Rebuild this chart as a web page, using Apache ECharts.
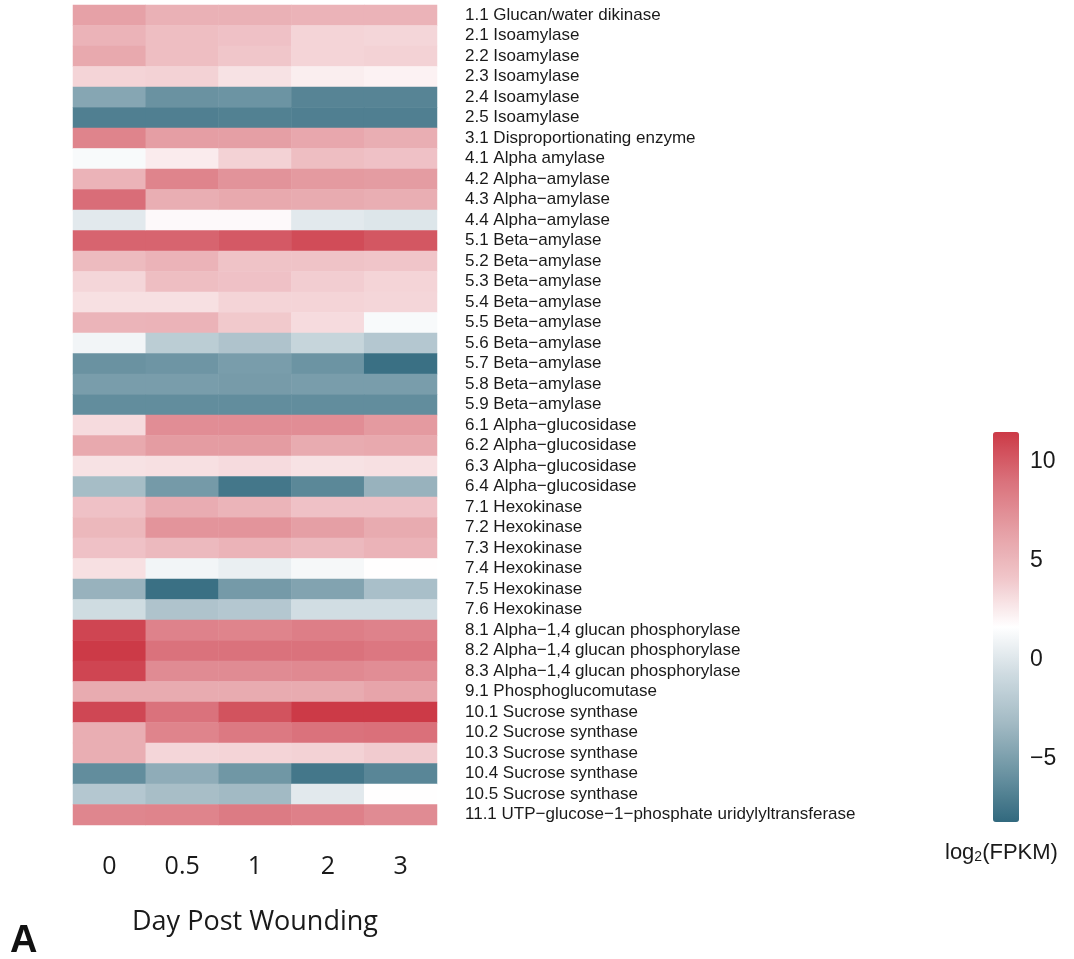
<!DOCTYPE html>
<html>
<head>
<meta charset="utf-8">
<script src="https://cdn.jsdelivr.net/npm/echarts@6/dist/echarts.min.js"></script>
<style>
  html, body { margin: 0; padding: 0; background: #ffffff; }
  #chart { width: 1074px; height: 959px; }
</style>
</head>
<body>
<div id="chart"></div>
<script>
// Sampling days after wounding (columns)
const days = ['0', '0.5', '1', '2', '3'];

// Genes of starch / sucrose metabolism (rows, top to bottom)
const genes = [
  '1.1 Glucan/water dikinase',
  '2.1 Isoamylase', '2.2 Isoamylase', '2.3 Isoamylase', '2.4 Isoamylase', '2.5 Isoamylase',
  '3.1 Disproportionating enzyme',
  '4.1 Alpha amylase', '4.2 Alpha−amylase', '4.3 Alpha−amylase', '4.4 Alpha−amylase',
  '5.1 Beta−amylase', '5.2 Beta−amylase', '5.3 Beta−amylase', '5.4 Beta−amylase', '5.5 Beta−amylase',
  '5.6 Beta−amylase', '5.7 Beta−amylase', '5.8 Beta−amylase', '5.9 Beta−amylase',
  '6.1 Alpha−glucosidase', '6.2 Alpha−glucosidase', '6.3 Alpha−glucosidase', '6.4 Alpha−glucosidase',
  '7.1 Hexokinase', '7.2 Hexokinase', '7.3 Hexokinase', '7.4 Hexokinase', '7.5 Hexokinase', '7.6 Hexokinase',
  '8.1 Alpha−1,4 glucan phosphorylase', '8.2 Alpha−1,4 glucan phosphorylase', '8.3 Alpha−1,4 glucan phosphorylase',
  '9.1 Phosphoglucomutase',
  '10.1 Sucrose synthase', '10.2 Sucrose synthase', '10.3 Sucrose synthase', '10.4 Sucrose synthase', '10.5 Sucrose synthase',
  '11.1 UTP−glucose−1−phosphate uridylyltransferase'
];

// log2(FPKM) per gene, one array per day (same order as genes)
const day0 = [
  6.4, 5.3, 5.9, 3.5, -4.5, -6.9, 8.0, 1.3, 5.3, 9.2, 0.2,
  9.6, 4.8, 3.4, 3.0, 5.2, 1.0, -5.8, -5.1, -6.1,
  3.2, 5.9, 2.9, -3.0, 4.4, 5.0, 4.4, 3.0, -3.7, -0.7,
  11.0, 11.5, 11.0, 5.8, 10.9, 5.6, 5.6, -6.1, -2.2, 7.9
];
const day05 = [
  5.4, 4.6, 4.6, 3.6, -5.8, -6.9, 6.6, 2.5, 8.0, 5.6, 1.9,
  9.6, 5.3, 4.6, 3.0, 5.3, -1.8, -5.6, -5.1, -6.1,
  7.5, 6.7, 3.0, -5.3, 5.7, 7.1, 4.9, 1.0, -7.8, -2.5,
  8.1, 9.0, 7.6, 5.8, 9.0, 8.0, 3.4, -4.1, -2.9, 8.0
];
const day1 = [
  5.4, 4.4, 4.1, 2.9, -5.7, -6.8, 6.5, 3.6, 7.2, 5.9, 1.9,
  10.1, 4.3, 4.4, 3.5, 4.0, -2.5, -5.1, -5.2, -6.1,
  7.5, 6.7, 3.2, -7.4, 5.2, 7.1, 5.3, 0.6, -5.3, -2.2,
  8.0, 9.0, 7.6, 5.8, 10.4, 8.6, 3.5, -5.5, -3.2, 8.5
];
const day2 = [
  5.3, 3.5, 3.5, 2.4, -6.6, -6.9, 6.0, 4.6, 6.8, 5.8, 0.2,
  10.7, 4.3, 3.8, 3.5, 3.2, -1.2, -5.7, -5.1, -6.1,
  7.5, 5.8, 2.9, -6.4, 4.4, 6.5, 4.9, 1.2, -4.7, -0.6,
  8.3, 9.0, 7.7, 5.8, 11.5, 9.0, 3.6, -7.4, 0.2, 8.2
];
const day3 = [
  5.3, 3.4, 3.6, 2.2, -6.6, -6.9, 5.6, 4.4, 6.7, 5.6, 0.0,
  10.2, 4.2, 3.5, 3.4, 1.3, -2.2, -7.8, -5.1, -6.1,
  6.8, 5.9, 3.0, -3.7, 4.4, 5.8, 5.3, 1.7, -2.8, -0.6,
  8.1, 8.7, 7.5, 6.2, 11.5, 9.1, 3.9, -6.5, 1.7, 7.6
];

// Colour scale range and its labelled ticks
const scaleMin = -8.2;
const scaleMax = 11.5;
const scaleTicks = [-5, 0, 5, 10];

const byDay = [day0, day05, day1, day2, day3];
const cells = [];
byDay.forEach((col, d) => {
  col.forEach((v, g) => cells.push([d, g, v]));
});

const chart = echarts.init(document.getElementById('chart'), null, { renderer: 'canvas' });

chart.setOption({
  animation: false,
  backgroundColor: '#ffffff',
  grid: [
    { left: 73, top: 5, width: 364, height: 820 },
    { left: 993, top: 432, width: 26, height: 390 }
  ],
  xAxis: [
    {
      type: 'category', data: days, gridIndex: 0,
      axisLine: { show: false }, axisTick: { show: false }, splitLine: { show: false },
      axisLabel: { fontSize: 25, color: '#1a1a1a', margin: 29, fontFamily: 'Open Sans' },
      name: 'Day Post Wounding', nameLocation: 'middle', nameGap: 84,
      nameTextStyle: { fontSize: 27, color: '#1a1a1a', fontFamily: 'Open Sans' }
    },
    { type: 'value', gridIndex: 1, show: false, min: 0, max: 1 }
  ],
  yAxis: [
    {
      type: 'category', data: genes, gridIndex: 0, inverse: true, position: 'right',
      axisLine: { show: false }, axisTick: { show: false }, splitLine: { show: false },
      axisLabel: { fontSize: 17, color: '#1a1a1a', margin: 28, fontFamily: 'Liberation Sans', interval: 0 }
    },
    {
      type: 'value', gridIndex: 1, position: 'right', min: scaleMin, max: scaleMax, splitNumber: 4,
      axisLine: { show: false }, axisTick: { show: false }, splitLine: { show: false },
      axisLabel: {
        fontSize: 23, color: '#1a1a1a', margin: 11, fontFamily: 'Liberation Sans',
        showMinLabel: false, showMaxLabel: false,
        formatter: v => scaleTicks.includes(v) ? String(v).replace('-', '\u2212') : ''
      }
    }
  ],
  visualMap: {
    type: 'continuous', seriesIndex: 0, min: scaleMin, max: scaleMax,
    calculable: false, left: 993, top: 432, itemWidth: 26, itemHeight: 390,
    padding: 0, text: null, showLabel: false,
    inRange: {
      color: ['#31697e', '#6b93a2', '#a1b9c3', '#cddae0', '#ffffff',
              '#f0c6ca', '#e59ea4', '#da717b', '#cc3a47']
    }
  },
  series: [{
    type: 'heatmap', xAxisIndex: 0, yAxisIndex: 0, data: cells,
    itemStyle: { borderWidth: 0 },
    emphasis: { disabled: true }
  }],
  graphic: [
    {
      type: 'text', left: 945, top: 842,
      style: {
        text: '{a|log}{s|2}{a|(FPKM)}',
        rich: {
          a: { fontSize: 22, fontFamily: 'Liberation Sans', fill: '#1a1a1a' },
          s: { fontSize: 14, fontFamily: 'Liberation Sans', fill: '#1a1a1a', padding: [9, 0, 0, 0] }
        }
      }
    },
    {
      type: 'text', left: 10, top: 923,
      style: { text: 'A', fontSize: 38, fontWeight: 'bold', fontFamily: 'Liberation Sans', fill: '#111' }
    }
  ]
});
</script>
</body>
</html>
